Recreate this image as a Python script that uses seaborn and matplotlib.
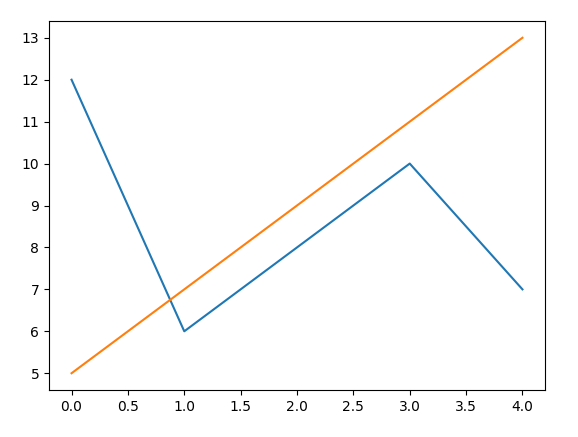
import matplotlib
matplotlib.use("Agg")
import matplotlib.pyplot as plt
import seaborn as sns
import pandas as pd

x = [0, 1, 2, 3, 4]
series_a = [12, 6, 8, 10, 7]
series_b = [5, 7, 9, 11, 13]

df = pd.DataFrame({"x": x + x, "y": series_a + series_b,
                   "series": ["a"] * len(x) + ["b"] * len(x)})

fig = plt.figure(figsize=(5.78, 4.37), dpi=100)
ax = fig.add_axes([49 / 578, 1 - 390 / 437, (545 - 49) / 578, (390 - 21) / 437])
sns.lineplot(data=df, x="x", y="y", hue="series", ax=ax,
             palette=["#1f77b4", "#ff7f0e"], legend=False)
ax.set_xlabel("")
ax.set_ylabel("")
fig.savefig("out.png", dpi=100)
